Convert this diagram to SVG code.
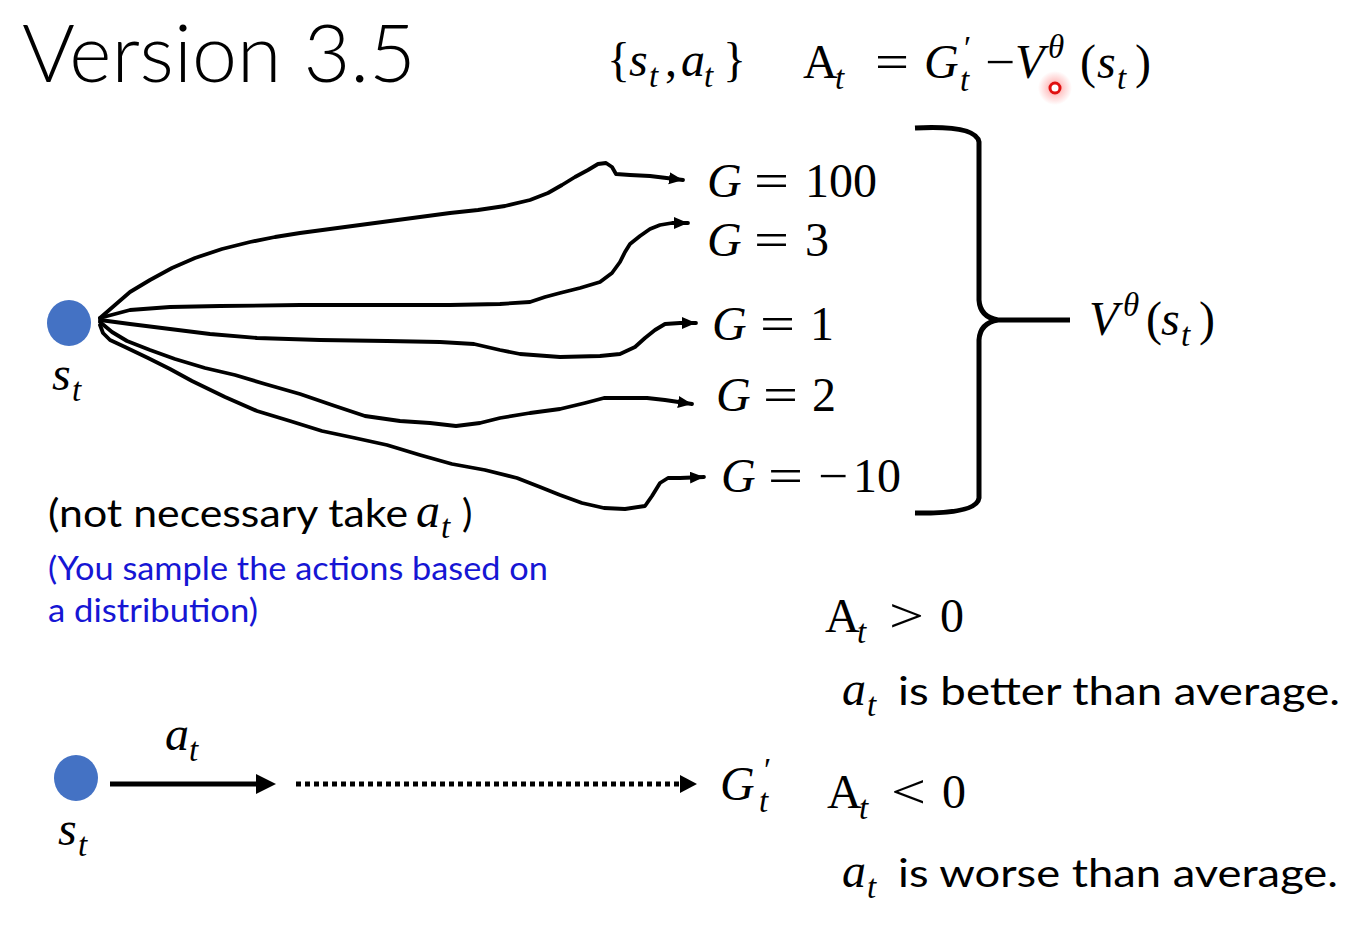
<svg xmlns="http://www.w3.org/2000/svg" width="1360" height="933" viewBox="0 0 1360 933">
<defs>
<style>
.m{font-family:"Liberation Serif","DejaVu Serif",serif;fill:#000;font-size:48px}
.s{font-size:33px}
.i{font-style:italic}
.b{font-family:Lato,"Open Sans","Liberation Sans",sans-serif;fill:#000}
.blue{fill:#1616d4}
.c{fill:none;stroke:#000;stroke-width:3.8;stroke-linejoin:round;stroke-linecap:round}
</style>
<marker id="ah" markerUnits="userSpaceOnUse" markerWidth="16" markerHeight="14" refX="14" refY="6" orient="auto">
<path d="M0,0 L14,6 L0,12 Z" fill="#000"/>
</marker>
<radialGradient id="glow">
<stop offset="0" stop-color="#ff2020" stop-opacity="0.55"/>
<stop offset="0.5" stop-color="#ff4040" stop-opacity="0.25"/>
<stop offset="1" stop-color="#ff4040" stop-opacity="0"/>
</radialGradient>
</defs>
<rect width="1360" height="933" fill="#fff"/>

<text id="title" x="22" y="82" class="b" font-size="80" font-weight="300" textLength="394" lengthAdjust="spacingAndGlyphs">Version 3.5</text>

<g id="formula-top" class="m">
<text x="607" y="76">{</text>
<text x="629" y="76" class="i">s</text>
<text x="649" y="87" class="i s">t</text>
<text x="665" y="76">,</text>
<text x="681" y="76" class="i">a</text>
<text x="704" y="87" class="i s">t</text>
<text x="723" y="76">}</text>
<text x="803" y="78">A</text>
<text x="835" y="89" class="i s">t</text>
<text x="875" y="78" textLength="34" lengthAdjust="spacingAndGlyphs">=</text>
<text x="924" y="78" class="i">G</text>
<text class="s"><tspan x="964" y="59">′</tspan><tspan x="960" y="91" class="i">t</tspan></text>
<text x="985" y="78" textLength="30" lengthAdjust="spacingAndGlyphs">−</text>
<text x="1015" y="78" class="i">V</text>
<text x="1048" y="58" class="i s">θ</text>
<text x="1080" y="78">(</text>
<text x="1097" y="78" class="i">s</text>
<text x="1117" y="89" class="i s">t</text>
<text x="1135" y="78">)</text>
</g>
<g id="laser">
<circle cx="1055" cy="88" r="17" fill="url(#glow)"/>
<circle cx="1055" cy="88" r="5" fill="#fff" stroke="#e01010" stroke-width="3"/>
</g>

<g id="node-st">
<ellipse cx="69" cy="323" rx="22" ry="23" fill="#4472c4"/>
<text x="52" y="390" class="m i">s</text>
<text x="72" y="401" class="m i s">t</text>
</g>

<g id="connectors">
<path class="c" marker-end="url(#ah)" d="M100,318 L115,305 L130,292 L150,280 L172,268 L195,258 L222,249 L250,242 L275,237 L300,233 L330,229 L360,225 L390,221 L420,217 L450,213 L478,210 L505,206 L530,200 L548,193 L562,185 L575,177 L588,170 L598,164 L606,163 L612,167 L616,174 L630,175 L650,176 L683,180"/>
<path class="c" marker-end="url(#ah)" d="M100,318 L130,310 L170,307 L220,306 L300,305 L380,305 L450,305 L500,304 L530,302 L545,297 L560,293 L580,288 L600,282 L612,273 L620,262 L625,252 L630,244 L640,236 L650,229 L660,225 L672,223 L688,223"/>
<path class="c" marker-end="url(#ah)" d="M100,320 L130,324 L170,329 L210,334 L257,338 L320,340 L387,341 L440,342 L474,344 L500,350 L520,354 L560,357 L600,356 L620,354 L635,347 L645,338 L655,330 L665,324 L680,323 L696,323"/>
<path class="c" marker-end="url(#ah)" d="M100,322 L112,332 L127,341 L150,350 L175,359 L205,368 L235,375 L265,384 L300,394 L335,406 L365,416 L400,421 L430,423 L456,426 L480,423 L500,418 L530,413 L560,409 L585,403 L604,398 L625,398 L647,398 L665,400 L692,404"/>
<path class="c" marker-end="url(#ah)" d="M100,325 L103,333 L110,340 L125,347 L148,358 L170,369 L192,381 L225,397 L257,411 L290,421 L322,431 L355,438 L387,445 L420,455 L452,464 L485,470 L517,478 L540,487 L560,495 L582,503 L604,508 L625,509 L645,506 L652,496 L660,483 L668,478 L680,478 L704,477"/>
<path d="M915,128 Q976,125 979,142 L979,300 Q980,317 998,320 L1070,320 M998,320 Q980,323 979,340 L979,498 Q977,514 915,513" fill="none" stroke="#000" stroke-width="5"/>
<line x1="110" y1="784" x2="260" y2="784" stroke="#000" stroke-width="5"/>
<polygon points="256,774 276,784 256,794" fill="#000"/>
<line x1="296" y1="784" x2="682" y2="784" stroke="#000" stroke-width="5" stroke-dasharray="5 4"/>
<polygon points="680,775 697,784 680,793" fill="#000"/>
</g>

<g id="G100" class="m">
<text x="707" y="197" class="i">G</text><text x="754" y="197" textLength="35" lengthAdjust="spacingAndGlyphs">=</text><text x="805" y="197">100</text>
</g>
<g id="G3" class="m">
<text x="707" y="256" class="i">G</text><text x="754" y="256" textLength="35" lengthAdjust="spacingAndGlyphs">=</text><text x="805" y="256">3</text>
</g>
<g id="G1" class="m">
<text x="712" y="340" class="i">G</text><text x="760" y="340" textLength="35" lengthAdjust="spacingAndGlyphs">=</text><text x="810" y="340">1</text>
</g>
<g id="G2" class="m">
<text x="716" y="411" class="i">G</text><text x="763" y="411" textLength="35" lengthAdjust="spacingAndGlyphs">=</text><text x="812" y="411">2</text>
</g>
<g id="Gm10" class="m">
<text x="721" y="492" class="i">G</text><text x="768" y="492" textLength="35" lengthAdjust="spacingAndGlyphs">=</text><text x="818" y="492" textLength="30" lengthAdjust="spacingAndGlyphs">−</text><text x="853" y="492">10</text>
</g>

<g id="V-label" class="m">
<text x="1089" y="335" class="i">V</text>
<text x="1123" y="316" class="i s">θ</text>
<text x="1146" y="335">(</text>
<text x="1161" y="335" class="i">s</text>
<text x="1181" y="346" class="i s">t</text>
<text x="1199" y="335">)</text>
</g>

<g id="note">
<text x="48" y="527" class="b" font-size="39" textLength="360" lengthAdjust="spacingAndGlyphs">(not necessary take</text>
<text x="416" y="527" class="m i">a</text>
<text x="441" y="538" class="m i s">t</text>
<text x="462" y="527" class="b" font-size="39">)</text>
<text x="48" y="580" class="b blue" font-size="32" textLength="500" lengthAdjust="spacingAndGlyphs">(You sample the actions based on</text>
<text x="48" y="622" class="b blue" font-size="32" textLength="210" lengthAdjust="spacingAndGlyphs">a distribution)</text>
</g>

<g id="node-st2">
<ellipse cx="76" cy="778" rx="22" ry="23" fill="#4472c4"/>
<text x="58" y="845" class="m i">s</text>
<text x="78" y="856" class="m i s">t</text>
</g>
<g id="at-label">
<text x="165" y="750" class="m i">a</text>
<text x="189" y="761" class="m i s">t</text>
</g>
<g id="Gprime">
<text x="720" y="800" class="m i">G</text>
<text class="m s"><tspan x="764" y="781">′</tspan><tspan x="759" y="812" class="i">t</tspan></text>
</g>

<g id="adv-pos">
<text x="825" y="632" class="m">A</text>
<text x="857" y="643" class="m i s">t</text>
<text x="889" y="632" class="m" textLength="35" lengthAdjust="spacingAndGlyphs">&gt;</text>
<text x="940" y="632" class="m">0</text>
<text x="842" y="705" class="m i">a</text>
<text x="867" y="716" class="m i s">t</text>
<text x="898" y="705" class="b" font-size="39" textLength="442" lengthAdjust="spacingAndGlyphs">is better than average.</text>
</g>
<g id="adv-neg">
<text x="827" y="808" class="m">A</text>
<text x="859" y="819" class="m i s">t</text>
<text x="891" y="808" class="m" textLength="35" lengthAdjust="spacingAndGlyphs">&lt;</text>
<text x="942" y="808" class="m">0</text>
<text x="842" y="887" class="m i">a</text>
<text x="867" y="898" class="m i s">t</text>
<text x="898" y="887" class="b" font-size="39" textLength="440" lengthAdjust="spacingAndGlyphs">is worse than average.</text>
</g>
</svg>
